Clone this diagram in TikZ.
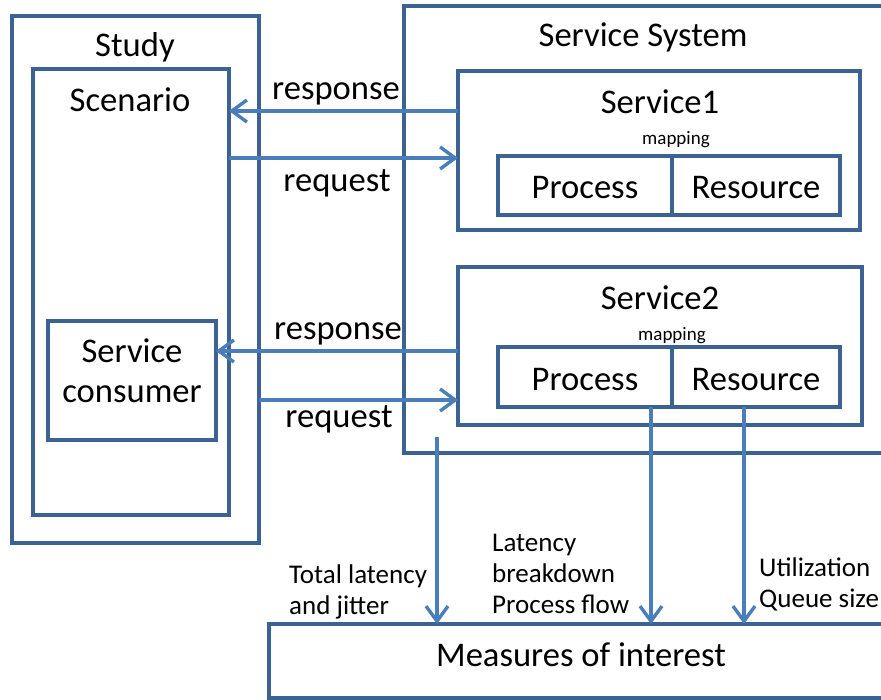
\documentclass[tikz,border=0pt]{standalone}
\usepackage{fontspec}
\setmainfont{Carlito}
\usetikzlibrary{arrows.meta}
\definecolor{boxc}{RGB}{60,98,146}
\definecolor{arrc}{RGB}{74,126,187}
\begin{document}
\begin{tikzpicture}[x=1pt,y=-1pt,
  box/.style={draw=boxc,line width=3.4pt,fill=white,anchor=north west,inner sep=0pt,outer sep=0pt},
  arr/.style={draw=arrc,line width=3.4pt,-{Straight Barb[length=15pt,width=22pt]}},
  big/.style={font=\fontsize{34.6}{40}\selectfont,inner sep=0pt,align=center},
  small/.style={font=\fontsize{19}{22}\selectfont,inner sep=0pt},
  meas/.style={font=\fontsize{27}{31}\selectfont,inner sep=0pt,align=left,anchor=west}]
\path[use as bounding box] (0,0) rectangle (881,700);
\clip (0,0) rectangle (881,700);
\fill[white] (0,0) rectangle (881,700);
% left side
\node[box,minimum width=247pt,minimum height=527pt] (study) at (12,16) {};
\node[box,minimum width=196pt,minimum height=446pt] (scenario) at (33,69) {};
\node[box,minimum width=168pt,minimum height=119pt] (consumer) at (48,321) {};
% service system
\node[box,minimum width=490pt,minimum height=447pt] (system) at (404,6) {};
\node[box,minimum width=402pt,minimum height=159pt] (s1) at (458,71) {};
\node[box,minimum width=174pt,minimum height=59pt] (p1) at (498,156) {};
\node[box,minimum width=168pt,minimum height=59pt] (r1) at (672,156) {};
\node[box,minimum width=404pt,minimum height=158pt] (s2) at (458,267) {};
\node[box,minimum width=174pt,minimum height=60pt] (p2) at (498,347) {};
\node[box,minimum width=168pt,minimum height=60pt] (r2) at (672,347) {};
% measures
\node[box,minimum width=630pt,minimum height=74pt] (meas) at (269,624) {};
% labels
\node[big] (tstudy) at (135,47) {Study};
\node[big] (tscen) at (130,100) {Scenario};
\node[big] (tcons) at (132,371) {Service\\consumer};
\node[big] (tsys) at (643,37) {Service System};
\node[big] (ts1) at (660,102) {Service1};
\node[small] (tm1) at (676,140) {mapping};
\node[big] (tp1) at (585,188) {Process};
\node[big] (tr1) at (756,188) {Resource};
\node[big] (ts2) at (660,298) {Service2};
\node[small] (tm2) at (672,336) {mapping};
\node[big] (tp2) at (585,380) {Process};
\node[big] (tr2) at (756,380) {Resource};
\node[big] (tmeas) at (581,655) {Measures of interest};
% connectors
\draw[arr] (s1.west |- 0,111) -- (scenario.east |- 0,111);
\draw[arr] (scenario.east |- 0,158) -- (s1.west |- 0,158);
\draw[arr] (s2.west |- 0,351) -- (consumer.east |- 0,351);
\draw[arr] (study.east |- 0,400) -- (s2.west |- 0,400);
\coordinate (tstart) at (437,437);
\draw[arr] (tstart) -- (tstart |- meas.north);
\draw[arr] (651,0 |- p2.south) -- (651,0 |- meas.north);
\draw[arr] (744,0 |- r2.south) -- (744,0 |- meas.north);
% connector labels
\node[big] (lresp1) at (336,94) {response};
\node[big] (lreq1) at (337,183) {request};
\node[big] (lresp2) at (338,334) {response};
\node[big] (lreq2) at (339,419) {request};
\node[meas] (ltot) at (289,592) {Total latency\\and jitter};
\node[meas] (llat) at (492,574) {Latency\\breakdown\\Process flow};
\node[meas] (lutil) at (759,584) {Utilization\\Queue size};
\end{tikzpicture}
\end{document}
